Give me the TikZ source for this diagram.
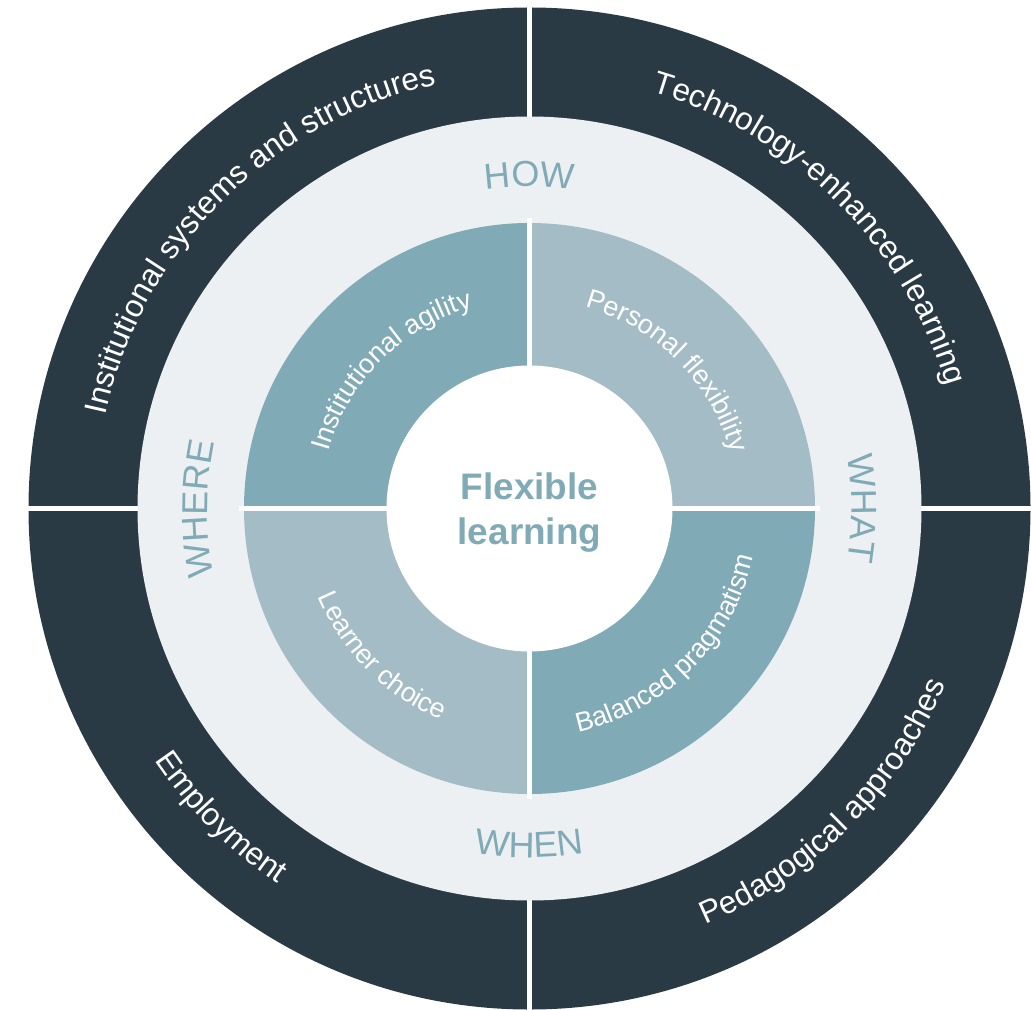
\documentclass[tikz,border=0pt]{standalone}
\usepackage{fontspec}
\setmainfont{Liberation Sans}
\usetikzlibrary{decorations.text}
\definecolor{rimdark}{HTML}{2A3A45}
\definecolor{bandlight}{HTML}{ECF0F3}
\definecolor{tealdark}{HTML}{80AAB6}
\definecolor{teallight}{HTML}{A3BCC5}
\newcommand\rimfont{\fontsize{18pt}{22pt}\selectfont}
\newcommand\bandfont{\fontsize{20.5pt}{24pt}\selectfont}
\newcommand\petalfont{\fontsize{15.4pt}{18pt}\selectfont}
\tikzset{
  gap/.style={draw=white, line width=0.1cm},
  rimtext/.style={decorate, decoration={text along path, text align=center, text color=white, text={|\rimfont|#1}}},
  bandtext/.style={decorate, decoration={text along path, text align=center, text color=tealdark, text={|\bandfont|#1}}},
  petaltext/.style={decorate, decoration={text along path, text align=center, text color=white, text={|\petalfont|#1}}}
}
\begin{document}
\begin{tikzpicture}
    \useasboundingbox (-10.59,-10.01) rectangle (10.03,10.17);
    % outer ring
    \fill[rimdark] (0,0) circle (10.02);
    \draw[gap] (-10.1,0) -- (10.1,0);
    \draw[gap] (0,-10.1) -- (0,10.1);
    % question ring
    \fill[bandlight] (0,0) circle (7.84);
    % quadrants
    \foreach \a/\c in {0/teallight,90/tealdark,180/teallight,270/tealdark}
        \fill[\c] (0,0) -- (\a:5.71) arc[start angle=\a, end angle=\a+90, radius=5.71] -- cycle;
    \draw[gap] (-5.8,0) -- (5.8,0);
    \draw[gap] (0,-5.8) -- (0,5.8);
    \fill[white] (0,0) circle (2.86);
    \node[text=tealdark, font=\bfseries\fontsize{21pt}{26pt}\selectfont, align=center] (hub) at (0,-0.08) {Flexible\\learning};
    % outer labels
    \path[rimtext={Institutional systems and structures}] (180:8.68) arc[start angle=180, end angle=90, radius=8.68];
    \path[rimtext={Technology-enhanced learning}] (90:8.68) arc[start angle=90, end angle=0, radius=8.68];
    \path[rimtext={Employment}] (180:9.04) arc[start angle=180, end angle=270, radius=9.04];
    \path[rimtext={Pedagogical approaches}] (270:9.04) arc[start angle=270, end angle=360, radius=9.04];
    % question labels
    \path[bandtext={HOW}] (135:6.44) arc[start angle=135, end angle=45, radius=6.44];
    \path[bandtext={WHAT}] (45:6.44) arc[start angle=45, end angle=-45, radius=6.44];
    \path[bandtext={WHEN}] (225:6.98) arc[start angle=225, end angle=315, radius=6.98];
    \path[bandtext={WHERE}] (225:6.44) arc[start angle=225, end angle=135, radius=6.44];
    % quadrant labels
    \path[petaltext={Institutional agility}] (180:4.18) arc[start angle=180, end angle=90, radius=4.18];
    \path[petaltext={Personal flexibility}] (90:4.18) arc[start angle=90, end angle=0, radius=4.18];
    \path[petaltext={Learner choice}] (180:4.58) arc[start angle=180, end angle=270, radius=4.58];
    \path[petaltext={Balanced pragmatism}] (270:4.58) arc[start angle=270, end angle=360, radius=4.58];
\end{tikzpicture}
\end{document}
